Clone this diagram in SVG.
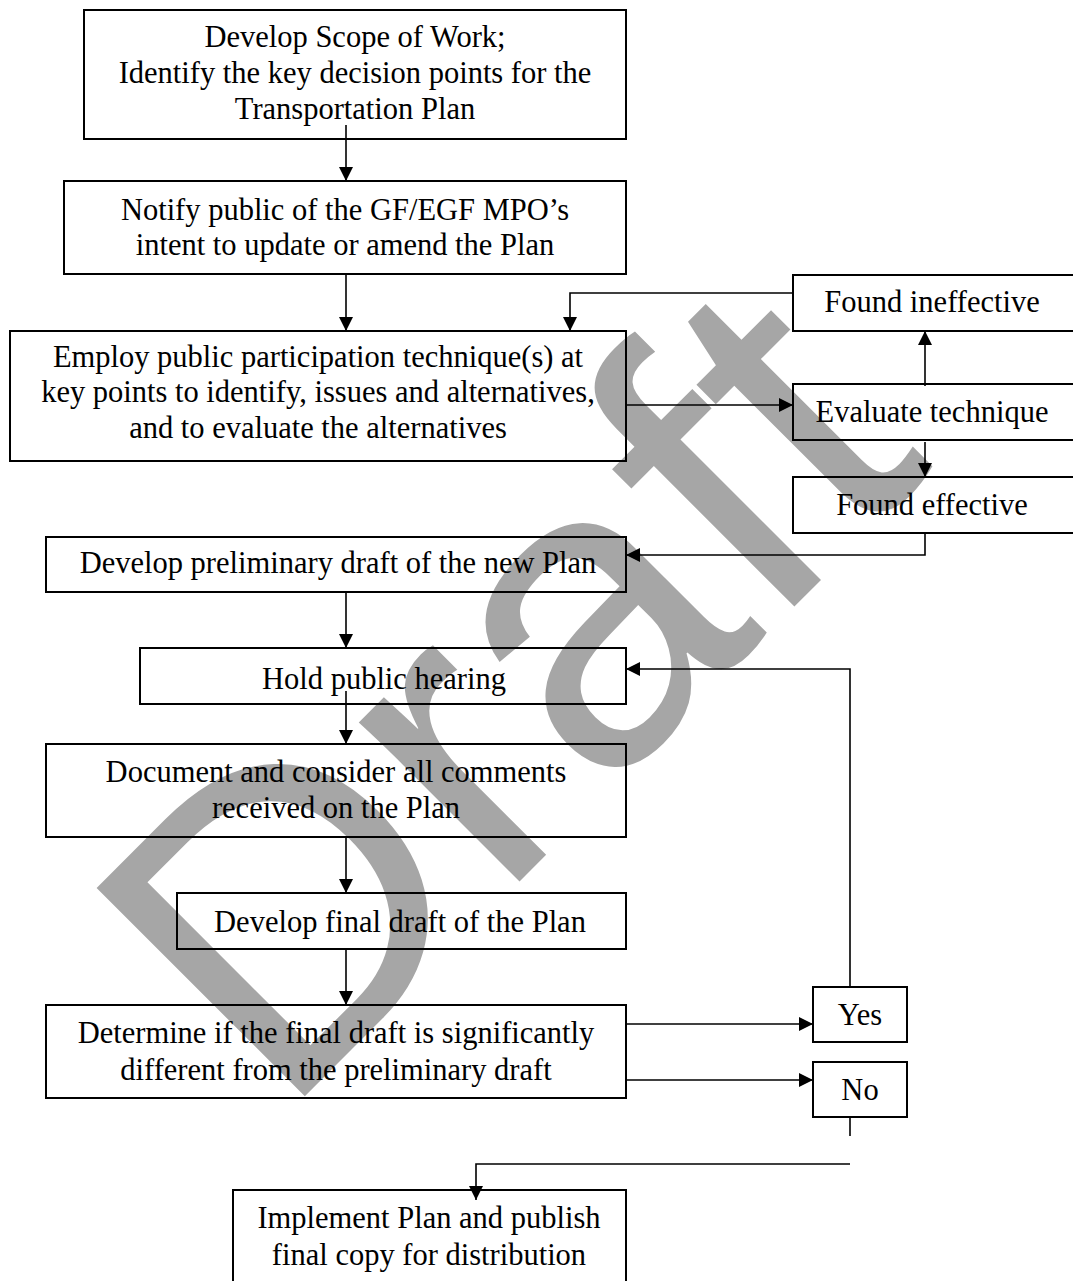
<svg xmlns="http://www.w3.org/2000/svg" width="1073" height="1281" viewBox="0 0 1073 1281">
  <style>
    .box { fill: none; stroke: #000; stroke-width: 2; }
    .lbl { font-family: "Liberation Serif", "Times New Roman", serif; font-size: 30.5px; fill: #000; text-anchor: middle; }
    .wire { fill: none; stroke: #000; stroke-width: 1.6; }
    .arr { marker-end: url(#head); }
    .mark { font-family: "Liberation Sans", Arial, sans-serif; font-size: 428px; fill: #a6a6a6; }
  </style>
  <defs>
    <marker id="head" markerUnits="userSpaceOnUse" markerWidth="14" markerHeight="14" refX="14" refY="7" orient="auto">
      <path d="M0,0 L14,7 L0,14 Z" fill="#000"/>
    </marker>
  </defs>
  <rect width="1073" height="1281" fill="#fff"/>

  <!-- watermark behind the chart -->
  <text class="mark" x="280" y="1121" transform="rotate(-45 280 1121)">Draft</text>

  <g id="connectors">
    <line class="wire arr" x1="346" y1="125" x2="346" y2="181"/>
    <line class="wire arr" x1="346" y1="274" x2="346" y2="331"/>
    <line class="wire arr" x1="626" y1="405" x2="793" y2="405"/>
    <line class="wire arr" x1="925" y1="386" x2="925" y2="331"/>
    <polyline class="wire arr" points="793,293 570,293 570,331"/>
    <line class="wire arr" x1="925" y1="442" x2="925" y2="477"/>
    <polyline class="wire arr" points="925,533 925,555 626,555"/>
    <line class="wire arr" x1="346" y1="592" x2="346" y2="648"/>
    <line class="wire arr" x1="346" y1="691" x2="346" y2="744"/>
    <line class="wire arr" x1="346" y1="837" x2="346" y2="893"/>
    <line class="wire arr" x1="346" y1="949" x2="346" y2="1005"/>
    <line class="wire arr" x1="626" y1="1024" x2="813" y2="1024"/>
    <line class="wire arr" x1="626" y1="1080" x2="813" y2="1080"/>
    <polyline class="wire arr" points="850,987 850,669 626,669"/>
    <line class="wire" x1="850" y1="1117" x2="850" y2="1136"/>
    <polyline class="wire arr" points="850,1164 476,1164 476,1200"/>
  </g>

  <g id="scope">
    <rect class="box" x="84" y="10" width="542" height="129"/>
    <text class="lbl" x="355" y="47">Develop Scope of Work;</text>
    <text class="lbl" x="355" y="83">Identify the key decision points for the</text>
    <text class="lbl" x="355" y="119">Transportation Plan</text>
  </g>

  <g id="notify">
    <rect class="box" x="64" y="181" width="562" height="93"/>
    <text class="lbl" x="345" y="220">Notify public of the GF/EGF MPO’s</text>
    <text class="lbl" x="345" y="255">intent to update or amend the Plan</text>
  </g>

  <g id="employ">
    <rect class="box" x="10" y="331" width="616" height="130"/>
    <text class="lbl" x="318" y="367">Employ public participation technique(s) at</text>
    <text class="lbl" x="318" y="402">key points to identify, issues and alternatives,</text>
    <text class="lbl" x="318" y="438">and to evaluate the alternatives</text>
  </g>

  <g id="ineffective">
    <rect class="box" x="793" y="275" width="281" height="56"/>
    <text class="lbl" x="932" y="312">Found ineffective</text>
  </g>

  <g id="evaluate">
    <rect class="box" x="793" y="384" width="281" height="56"/>
    <text class="lbl" x="932" y="422">Evaluate technique</text>
  </g>

  <g id="effective">
    <rect class="box" x="793" y="477" width="281" height="56"/>
    <text class="lbl" x="932" y="515">Found effective</text>
  </g>

  <g id="preliminary">
    <rect class="box" x="46" y="537" width="580" height="55"/>
    <text class="lbl" x="338" y="573">Develop preliminary draft of the new Plan</text>
  </g>

  <g id="hearing">
    <rect class="box" x="140" y="648" width="486" height="56"/>
    <text class="lbl" x="384" y="689">Hold public hearing</text>
  </g>

  <g id="comments">
    <rect class="box" x="46" y="744" width="580" height="93"/>
    <text class="lbl" x="336" y="782">Document and consider all comments</text>
    <text class="lbl" x="336" y="818">received on the Plan</text>
  </g>

  <g id="final">
    <rect class="box" x="177" y="893" width="449" height="56"/>
    <text class="lbl" x="400" y="932">Develop final draft of the Plan</text>
  </g>

  <g id="determine">
    <rect class="box" x="46" y="1005" width="580" height="93"/>
    <text class="lbl" x="336" y="1043">Determine if the final draft is significantly</text>
    <text class="lbl" x="336" y="1080">different from the preliminary draft</text>
  </g>

  <g id="yes">
    <rect class="box" x="813" y="987" width="94" height="55"/>
    <text class="lbl" x="860" y="1025">Yes</text>
  </g>

  <g id="no">
    <rect class="box" x="813" y="1062" width="94" height="55"/>
    <text class="lbl" x="860" y="1100">No</text>
  </g>

  <g id="implement">
    <rect class="box" x="233" y="1190" width="393" height="110"/>
    <text class="lbl" x="429" y="1228">Implement Plan and publish</text>
    <text class="lbl" x="429" y="1265">final copy for distribution</text>
  </g>
</svg>
